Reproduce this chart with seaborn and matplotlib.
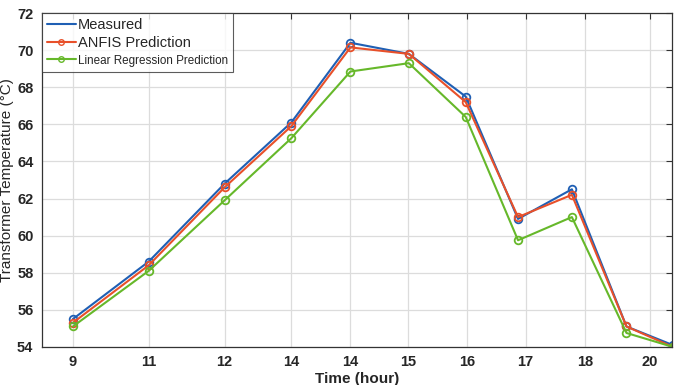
import matplotlib.pyplot as plt
import numpy as np
import pandas as pd
import seaborn as sns
from matplotlib.lines import Line2D

# x positions of the samples along the (unevenly labelled) time axis
time_pos = [1.0, 2.0, 3.0, 3.88, 4.66, 5.43, 6.18, 6.87, 7.58, 8.30, 8.91]
measured = [55.5, 58.6, 62.8, 66.1, 70.4, 69.8, 67.5, 60.9, 62.5, 55.1, 54.1]
anfis = [55.3, 58.4, 62.6, 65.9, 70.15, 69.8, 67.2, 61.0, 62.2, 55.1, 54.0]
linreg = [55.1, 58.1, 61.9, 65.25, 68.85, 69.3, 66.4, 59.75, 61.0, 54.75, 54.0]

tick_pos = [1.0, 2.0, 3.0, 3.88, 4.66, 5.42, 6.20, 6.97, 7.75, 8.61]
tick_labels = ['9', '11', '12', '14', '14', '15', '16', '17', '18', '20']

series_names = ['Measured', 'ANFIS Prediction', 'Linear Regression Prediction']
colors = ['#1f5fb4', '#e8502a', '#66b82a']

df = pd.DataFrame({
    'time': time_pos * 3,
    'temp': measured + anfis + linreg,
    'series': np.repeat(series_names, len(time_pos)),
})

sns.set_style('whitegrid')
plt.rcParams['font.family'] = ['Liberation Sans', 'DejaVu Sans']

fig = plt.figure(figsize=(6.74, 3.85), dpi=100)
ax = fig.add_axes([0.062, 0.099, 0.935, 0.867])

for name, col in zip(series_names, colors):
    sub = df[df['series'] == name]
    sns.lineplot(data=sub, x='time', y='temp', ax=ax, color=col, lw=1.5,
                 marker='o', markersize=5.5, markerfacecolor='none',
                 markeredgecolor=col, markeredgewidth=1.3, clip_on=True)

ax.set_xlim(0.59, 8.9)
ax.set_ylim(54, 72)
ax.set_yticks(np.arange(54, 73, 2))
ax.set_xticks(tick_pos)
ax.set_xticklabels(tick_labels)
ax.grid(True, color='#dcdcdc', lw=0.9)
for s in ax.spines.values():
    s.set_visible(True)
    s.set_color('#333333')
    s.set_linewidth(0.9)
ax.tick_params(direction='in', length=4, top=True, right=True, labelsize=10.5,
               color='#333333', pad=6)
for lab in ax.get_xticklabels() + ax.get_yticklabels():
    lab.set_fontweight('bold')

ax.set_xlabel('Time (hour)', fontsize=11, fontweight='bold', labelpad=2)
ax.set_ylabel('Transformer Temperature (°C)', fontsize=11, labelpad=2)

handles = [
    Line2D([], [], color=colors[0], lw=1.5),
    Line2D([], [], color=colors[1], lw=1.5, marker='o', markersize=4,
           markerfacecolor='none', markeredgecolor=colors[1]),
    Line2D([], [], color=colors[2], lw=1.5, marker='o', markersize=4,
           markerfacecolor='none', markeredgecolor=colors[2]),
]
leg = ax.legend(handles, series_names, loc='upper left', fontsize=10.5,
                frameon=True, fancybox=False, borderaxespad=0, handlelength=2,
                handletextpad=0.1, labelspacing=0.25, borderpad=0.35)
leg.get_frame().set_edgecolor('#333333')
leg.get_frame().set_linewidth(0.8)
leg.get_texts()[2].set_fontsize(8.4)

fig.savefig('out.png', dpi=100)
